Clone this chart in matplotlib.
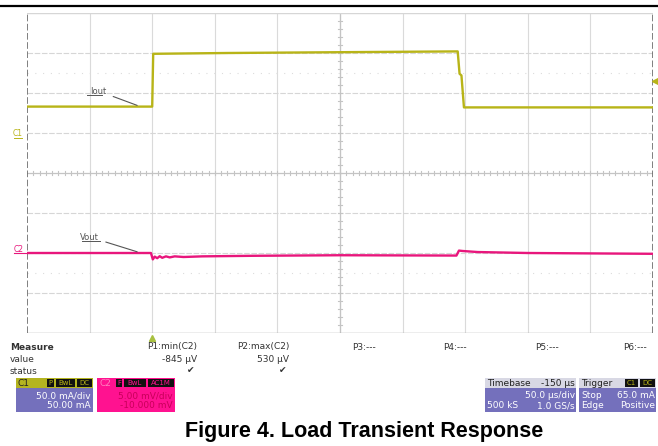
import matplotlib.pyplot as plt
from matplotlib.patches import Rectangle
from matplotlib.lines import Line2D

# ---- trace data (time in us) ----
iout_t = [-100, 0, 0.8, 60, 150, 244, 245.5, 247, 249, 300, 400]
iout_ma = [33, 33, 99, 100, 101, 102, 74, 72, 32, 32, 32]

vout_t = [-100, -1, 0.5, 2, 4, 6, 8, 11, 14, 18, 25, 40, 80, 150, 243,
          245, 248, 260, 300, 400]
vout_mv = [0.0, 0.0, -0.8, -0.45, -0.65, -0.4, -0.6, -0.42, -0.55, -0.42,
           -0.5, -0.42, -0.35, -0.28, -0.32, 0.3, 0.25, 0.12, 0.0, -0.1]

c1_scale = 50.0   # mA/div
c2_scale = 5.0    # mV/div
trig_level = 65.0  # mA

meas_names = ['P1:min(C2)', 'P2:max(C2)', 'P3:---', 'P4:---', 'P5:---', 'P6:---']
meas_values = ['-845 µV', '530 µV', '', '', '', '']
meas_status = [True, True, False, False, False, False]

c1_info = ['50.0 mA/div', '50.00 mA']
c2_info = ['5.00 mV/div', '-10.000 mV']
tb_info = ['-150 µs', '50.0 µs/div', '500 kS', '1.0 GS/s']
trig_info = ['Stop', '65.0 mA', 'Edge', 'Positive']

title = 'Figure 4. Load Transient Response'

YEL = '#b8b418'
PINK = '#e8167c'
PURPLE = '#7470bc'
MAG = '#ff1290'

C1_REF = 1.0   # divisions
C2_REF = -2.0

W, H = 658, 446
fig = plt.figure(figsize=(W / 100, H / 100), dpi=100)

def fx(x):
    return x / W

def fy(y):
    return 1 - y / H

ax = fig.add_axes([fx(27), fy(333), (653 - 27) / W, 320 / H])
ax.set_xlim(-100, 400)
ax.set_ylim(-4, 4)
ax.axis('off')

# grid
for t in range(-50, 400, 50):
    ax.axvline(t, color='#dadada', lw=0.8, zorder=1)
for d in [-3, -2, -1, 1, 2, 3]:
    ax.axhline(d, color='#d6d6d6', lw=0.8, ls=(0, (5, 1.5)), zorder=1)
for d in [-2.5, 2.5]:
    ax.axhline(d, color='#dcdcdc', lw=0.8, ls=(0, (1, 6)), zorder=1)
ax.axhline(0, color='#c4c4c4', lw=0.9, zorder=1)
ax.axvline(150, color='#c4c4c4', lw=0.9, zorder=1)
ax.axhline(4, color='#d6d6d6', lw=1.0, zorder=1)
ax.axhline(-4, color='#a8a8a8', lw=1.0, zorder=1)
ax.axvline(-100, color='#6a6a6a', lw=1.2, ls=(0, (4, 1.5)), zorder=1)
ax.axvline(400, color='#6a6a6a', lw=1.2, ls=(0, (4, 1.5)), zorder=1)
for i in range(-50, 51):
    t = 150 + i * 5
    if -100 < t < 400:
        ax.plot([t, t], [-0.05, 0.05], color='#c4c4c4', lw=0.8, zorder=1)
for i in range(-20, 21):
    d = i * 0.2
    if -4 < d < 4:
        ax.plot([148.5, 151.5], [d, d], color='#c4c4c4', lw=0.8, zorder=1)

# traces
c1_div = [C1_REF + v / c1_scale for v in iout_ma]
c2_div = [C2_REF + v / c2_scale for v in vout_mv]
ax.plot(iout_t, c1_div, color=YEL, lw=1.7, zorder=3)
ax.plot(vout_t, c2_div, color=PINK, lw=1.7, zorder=3)

# trigger markers
ax.plot([401.5], [C1_REF + trig_level / c1_scale], marker='<', color=YEL,
        ms=5, clip_on=False, zorder=4)
ax.plot([0], [-4.12], marker='^', color='#a8c040', ms=5, clip_on=False, zorder=4)

# labels on the traces
ax.annotate('Iout', xy=(-12, C1_REF + 33 / c1_scale + 0.03),
            xytext=(-43, 2.05), fontsize=6, color='#555555', ha='center',
            va='center', arrowprops=dict(arrowstyle='-', color='#555555', lw=0.8,
                                         shrinkA=3, shrinkB=0))
ax.annotate('Vout', xy=(-12, C2_REF + 0.03),
            xytext=(-50, -1.6), fontsize=6, color='#555555', ha='center',
            va='center', arrowprops=dict(arrowstyle='-', color='#555555', lw=0.8,
                                         shrinkA=3, shrinkB=0))

# overlay in pixel coordinates
ov = fig.add_axes([0, 0, 1, 1])
ov.set_xlim(0, W)
ov.set_ylim(H, 0)
ov.axis('off')
ov.patch.set_alpha(0)

ov.add_line(Line2D([0, W], [6, 6], color='black', lw=1.6))
# underlines of the trace labels
ov.add_line(Line2D([87, 102], [95, 95], color='#555555', lw=0.7))
ov.add_line(Line2D([82, 100], [241, 241], color='#555555', lw=0.7))

ov.text(18, 134, 'C1', color=YEL, fontsize=5.5, ha='center', va='center')
ov.add_line(Line2D([14, 22], [138, 138], color=YEL, lw=0.7))
ov.text(19, 249, 'C2', color=PINK, fontsize=5.5, ha='center', va='center')
ov.add_line(Line2D([14, 27], [253, 253], color=PINK, lw=0.8))

sf = 'DejaVu Sans'
txt = '#333333'
ov.text(10, 347, 'Measure', fontsize=6.5, fontweight='bold', color=txt,
        va='center', family=sf)
ov.text(10, 359, 'value', fontsize=6.5, color=txt, va='center', family=sf)
ov.text(10, 371, 'status', fontsize=6.5, color=txt, va='center', family=sf)

name_x = [147, 237, 352, 443, 535, 623]
val_right = [197, 289]
for i, n in enumerate(meas_names):
    ov.text(name_x[i], 347, n, fontsize=6.5, color=txt, va='center', family=sf)
    if meas_values[i]:
        ov.text(val_right[i], 359, meas_values[i], fontsize=6.5, color=txt,
                va='center', ha='right', family=sf)
    if meas_status[i]:
        ov.text(val_right[i] - 6, 371, '✔', fontsize=6.5, color=txt,
                va='center', ha='center', family=sf)


def box(x0, x1, hdr_col, body_col):
    ov.add_patch(Rectangle((x0, 378), x1 - x0, 34, color=body_col, lw=0))
    ov.add_patch(Rectangle((x0, 378), x1 - x0, 10, color=hdr_col, lw=0))


def tag(x0, x1, s, col):
    ov.add_patch(Rectangle((x0, 379), x1 - x0, 8, color='#111111', lw=0))
    ov.text((x0 + x1) / 2, 383.3, s, fontsize=5, color=col, ha='center',
            va='center', family=sf)


box(16, 93, '#b4b420', PURPLE)
ov.text(18, 383.3, 'C1', fontsize=6.5, color='#222222', va='center', family=sf)
tag(47, 54, 'P', YEL)
tag(56, 75, 'BwL', YEL)
tag(77, 92, 'DC', YEL)
ov.text(91, 396, c1_info[0], fontsize=6.5, color='white', ha='right',
        va='center', family=sf)
ov.text(91, 406, c1_info[1], fontsize=6.5, color='white', ha='right',
        va='center', family=sf)

box(97, 175, MAG, MAG)
ov.text(100, 383.3, 'C2', fontsize=6.5, color='#ff80c0', va='center', family=sf)
tag(116, 122, 'F', MAG)
tag(124, 146, 'BwL', MAG)
tag(148, 174, 'AC1M', MAG)
ov.text(173, 396, c2_info[0], fontsize=6.5, color='#c8005a', ha='right',
        va='center', family=sf)
ov.text(173, 406, c2_info[1], fontsize=6.5, color='#c8005a', ha='right',
        va='center', family=sf)

box(485, 576, '#d8d8e4', PURPLE)
ov.text(487, 383.3, 'Timebase', fontsize=6.5, color='#222222', va='center', family=sf)
ov.text(575, 383.3, tb_info[0], fontsize=6.5, color='#222222', ha='right',
        va='center', family=sf)
ov.text(575, 396, tb_info[1], fontsize=6.5, color='white', ha='right',
        va='center', family=sf)
ov.text(487, 406, tb_info[2], fontsize=6.5, color='white', va='center', family=sf)
ov.text(575, 406, tb_info[3], fontsize=6.5, color='white', ha='right',
        va='center', family=sf)

box(579, 656, '#d8d8e4', PURPLE)
ov.text(581, 383.3, 'Trigger', fontsize=6.5, color='#222222', va='center', family=sf)
tag(625, 638, 'C1', YEL)
tag(640, 655, 'DC', YEL)
ov.text(581, 396, trig_info[0], fontsize=6.5, color='white', va='center', family=sf)
ov.text(655, 396, trig_info[1], fontsize=6.5, color='white', ha='right',
        va='center', family=sf)
ov.text(581, 406, trig_info[2], fontsize=6.5, color='white', va='center', family=sf)
ov.text(655, 406, trig_info[3], fontsize=6.5, color='white', ha='right',
        va='center', family=sf)

ov.text(364, 431, title, fontsize=15.5, fontweight='bold', ha='center',
        va='center', family='Liberation Sans', color='black')

fig.savefig('out.png', dpi=100)
